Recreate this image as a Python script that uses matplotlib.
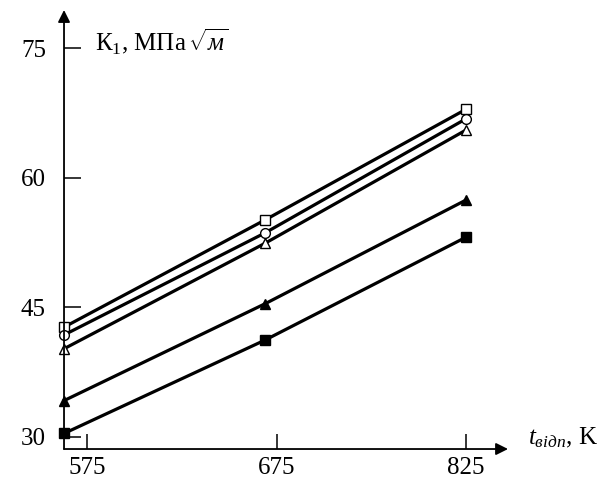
"""
K1 vs tempering temperature chart, line plot with markers.
"""

import matplotlib

matplotlib.use("Agg")
import matplotlib.pyplot as plt
import numpy as np

plt.rcParams["font.family"] = ["Liberation Serif", "DejaVu Serif"]
plt.rcParams["mathtext.fontset"] = "custom"
plt.rcParams["mathtext.rm"] = "Liberation Serif"
plt.rcParams["mathtext.it"] = "Liberation Serif:italic"

# temperatures (categories, equally spaced on the drawing)
temps = ["575", "675", "825"]

# K1 values, MPa*sqrt(m)
open_square = [42.7, 55.1, 67.9]
open_circle = [41.8, 53.6, 66.8]
open_triangle = [40.2, 52.4, 65.5]
filled_triangle = [34.2, 45.4, 57.4]
filled_square = [30.4, 41.2, 53.1]

yticks = [30, 45, 60, 75]

x = np.arange(len(temps))

fig = plt.figure(figsize=(6.12, 4.79), dpi=100)
ax = fig.add_axes([0.1046, 0.0626, 0.7255, 0.9165])

series = [
    (open_square, "s", "white"),
    (open_circle, "o", "white"),
    (open_triangle, "^", "white"),
    (filled_triangle, "^", "black"),
    (filled_square, "s", "black"),
]
for vals, mk, fc in series:
    ax.plot(x, vals, color="black", lw=2.3, marker=mk, markersize=7,
            markerfacecolor=fc, markeredgecolor="black", markeredgewidth=1.0,
            clip_on=False, zorder=3)

ax.set_xlim(0, 2.21)
ax.set_ylim(28.6, 79.4)

for s in ax.spines.values():
    s.set_visible(False)

# axes with arrow heads
arrow = dict(arrowstyle="-|>", color="black", lw=1.3, mutation_scale=18, shrinkA=0, shrinkB=0)
ax.annotate("", xy=(0, 1), xytext=(0, 0), xycoords="axes fraction", arrowprops=arrow)
ax.annotate("", xy=(1, 0), xytext=(0, 0), xycoords="axes fraction", arrowprops=arrow)

ax.set_yticks(yticks)
ax.set_xticks([0.114, 1.06, 2.0], temps)
ax.tick_params(axis="y", direction="in", length=12, width=1.1, pad=13, labelsize=18)
ax.tick_params(axis="x", direction="in", length=11, width=1.1, pad=6, labelsize=18)

fig.text(95 / 612, 1 - 50 / 479, r"К$_1$, МПа$\,\sqrt{\mathit{м}}$", fontsize=18,
         ha="left", va="baseline")
fig.text(528 / 612, 1 - 444 / 479, r"$t_{відп}$, K", fontsize=18,
         ha="left", va="baseline")

fig.savefig("out.png", dpi=100)
